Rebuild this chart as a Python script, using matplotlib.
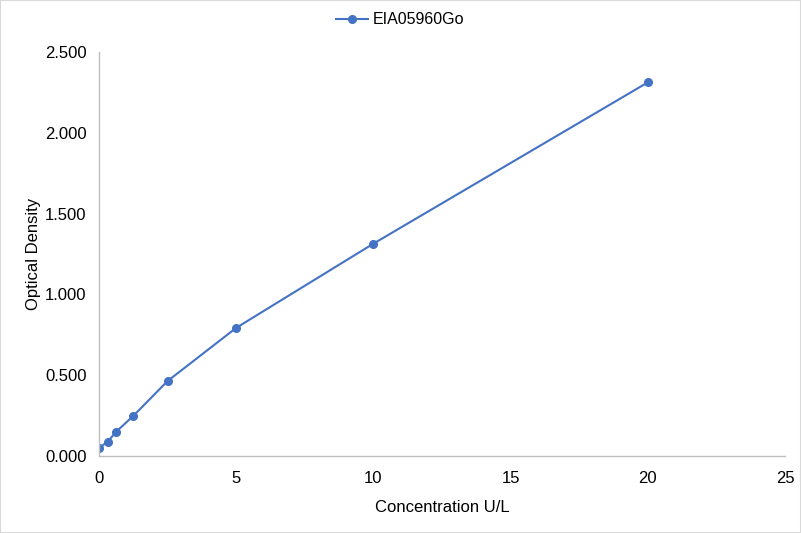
import matplotlib
matplotlib.use("Agg")
import matplotlib.pyplot as plt
from matplotlib.ticker import FuncFormatter, MultipleLocator

plt.rcParams['font.family'] = ['Liberation Sans', 'DejaVu Sans']

concentration = [0, 0.3125, 0.625, 1.25, 2.5, 5, 10, 20]
optical_density = [0.050, 0.088, 0.150, 0.248, 0.464, 0.793, 1.314, 2.312]
series_name = "EIA05960Go"

fig = plt.figure(figsize=(8.01, 5.33), dpi=100)
ax = fig.add_axes([99/801, 1 - 456/533, (785-99)/801, (456-52)/533])
color = "#4472C4"
ax.plot(concentration, optical_density, color=color, marker='o', markersize=5.5,
        linewidth=1.5, label=series_name)
ax.set_xlim(0, 25)
ax.set_ylim(0, 2.5)
ax.xaxis.set_major_locator(MultipleLocator(5))
ax.yaxis.set_major_locator(MultipleLocator(0.5))
ax.yaxis.set_major_formatter(FuncFormatter(lambda v, p: f"{v:.3f}"))
for s in ['top', 'right']:
    ax.spines[s].set_visible(False)
for s in ['left', 'bottom']:
    ax.spines[s].set_color('#BFBFBF')
    ax.spines[s].set_linewidth(1)
ax.tick_params(axis='x', length=0, labelsize=12, colors='#000000', pad=11)
ax.tick_params(axis='y', length=0, labelsize=12, colors='#000000', pad=9)
ax.set_xlabel("Concentration U/L", fontsize=12, labelpad=10)
ax.set_ylabel("Optical Density", fontsize=12, labelpad=3)
fig.legend(loc='center', bbox_to_anchor=(400/801, 1 - 20/533), frameon=False,
           fontsize=11.5, handlelength=2.0, handletextpad=0.3)
fig.patches.append(plt.Rectangle((0, 0), 1, 1, transform=fig.transFigure,
                                 fill=False, edgecolor='#D9D9D9', linewidth=1.5))
fig.savefig("out.png", dpi=100)
